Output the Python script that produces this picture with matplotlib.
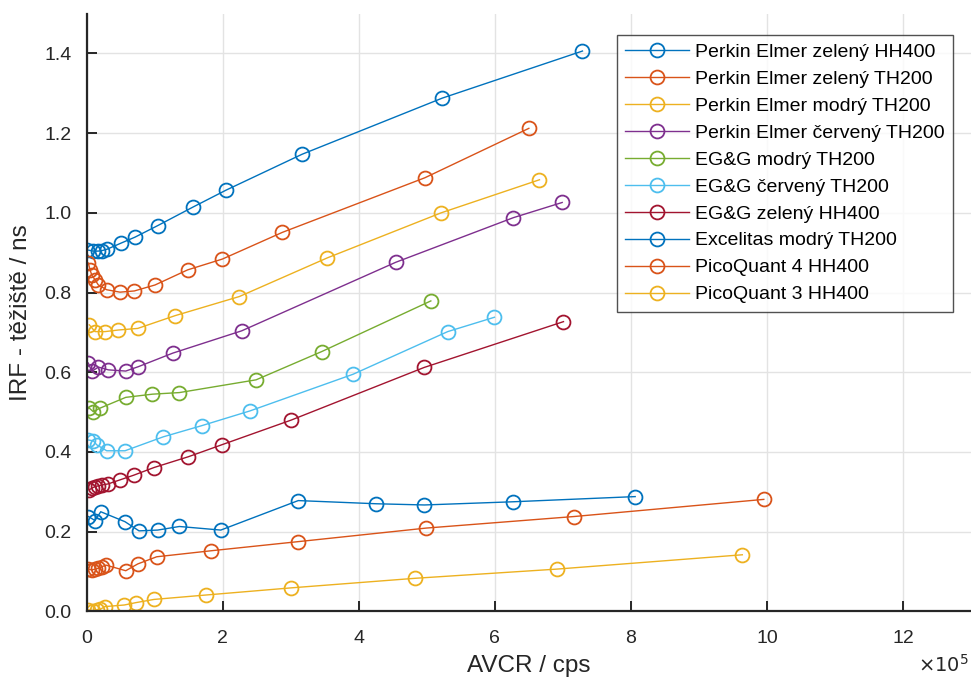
import matplotlib
matplotlib.use("Agg")
import matplotlib.pyplot as plt

plt.rcParams['font.family'] = ['Liberation Sans', 'DejaVu Sans']

# AVCR in units of 1e5 cps, IRF centroid in ns
pe_zel_hh_x = [0.009, 0.097, 0.166, 0.221, 0.303, 0.504, 0.710, 1.044, 1.568, 2.049, 3.166, 5.229, 7.288]
pe_zel_hh_y = [0.907, 0.904, 0.904, 0.905, 0.909, 0.924, 0.939, 0.968, 1.015, 1.057, 1.147, 1.288, 1.406]

pe_zel_th_x = [0.024, 0.049, 0.074, 0.122, 0.171, 0.294, 0.490, 0.700, 1.004, 1.485, 1.994, 2.876, 4.971, 6.500]
pe_zel_th_y = [0.874, 0.857, 0.844, 0.832, 0.819, 0.807, 0.801, 0.804, 0.819, 0.857, 0.884, 0.951, 1.088, 1.212]

pe_mod_th_x = [0.038, 0.122, 0.269, 0.465, 0.750, 1.299, 2.244, 3.537, 5.210, 6.656]
pe_mod_th_y = [0.719, 0.702, 0.702, 0.706, 0.710, 0.742, 0.790, 0.887, 1.000, 1.083]

pe_cer_th_x = [0.024, 0.074, 0.171, 0.318, 0.574, 0.759, 1.265, 2.279, 4.544, 6.274, 6.990]
pe_cer_th_y = [0.623, 0.602, 0.613, 0.606, 0.603, 0.614, 0.648, 0.704, 0.876, 0.988, 1.026]

eg_mod_th_x = [0.038, 0.097, 0.196, 0.574, 0.965, 1.362, 2.490, 3.456, 5.059]
eg_mod_th_y = [0.510, 0.501, 0.510, 0.537, 0.545, 0.549, 0.581, 0.652, 0.779]

eg_cer_th_x = [0.024, 0.097, 0.147, 0.294, 0.563, 1.126, 1.691, 2.400, 3.916, 5.307, 5.994]
eg_cer_th_y = [0.430, 0.428, 0.418, 0.403, 0.403, 0.438, 0.466, 0.503, 0.595, 0.702, 0.738]

eg_zel_hh_x = [0.038, 0.074, 0.122, 0.171, 0.221, 0.318, 0.490, 0.696, 0.990, 1.494, 1.985, 3.006, 4.960, 7.009]
eg_zel_hh_y = [0.305, 0.309, 0.313, 0.315, 0.317, 0.320, 0.330, 0.342, 0.361, 0.388, 0.418, 0.480, 0.612, 0.727]

exc_mod_th_x = [0.024, 0.122, 0.206, 0.563, 0.769, 1.044, 1.362, 1.971, 3.110, 4.260, 4.965, 6.268, 8.063]
exc_mod_th_y = [0.238, 0.228, 0.250, 0.225, 0.202, 0.204, 0.213, 0.204, 0.278, 0.270, 0.267, 0.275, 0.288]

pq4_hh_x = [0.024, 0.074, 0.122, 0.171, 0.221, 0.284, 0.574, 0.750, 1.029, 1.824, 3.110, 4.991, 7.165, 9.954]
pq4_hh_y = [0.106, 0.104, 0.106, 0.108, 0.112, 0.116, 0.102, 0.119, 0.137, 0.152, 0.175, 0.209, 0.238, 0.281]

pq3_hh_x = [0.024, 0.088, 0.147, 0.196, 0.269, 0.553, 0.725, 0.990, 1.750, 3.006, 4.828, 6.907, 9.638]
pq3_hh_y = [0.004, 0.002, 0.004, 0.005, 0.012, 0.016, 0.022, 0.030, 0.041, 0.059, 0.083, 0.106, 0.142]

labels = ['Perkin Elmer zelený HH400', 'Perkin Elmer zelený TH200', 'Perkin Elmer modrý TH200',
          'Perkin Elmer červený TH200', 'EG&G modrý TH200', 'EG&G červený TH200',
          'EG&G zelený HH400', 'Excelitas modrý TH200', 'PicoQuant 4 HH400', 'PicoQuant 3 HH400']
series = [(pe_zel_hh_x, pe_zel_hh_y), (pe_zel_th_x, pe_zel_th_y), (pe_mod_th_x, pe_mod_th_y),
          (pe_cer_th_x, pe_cer_th_y), (eg_mod_th_x, eg_mod_th_y), (eg_cer_th_x, eg_cer_th_y),
          (eg_zel_hh_x, eg_zel_hh_y), (exc_mod_th_x, exc_mod_th_y), (pq4_hh_x, pq4_hh_y),
          (pq3_hh_x, pq3_hh_y)]
# matlab default order
colors = ['#0072BD', '#D95319', '#EDB120', '#7E2F8E', '#77AC30', '#4DBEEE', '#A2142F']

fig = plt.figure(figsize=(9.71, 6.79), dpi=100)
ax = fig.add_axes([0.0893, 0.0996, 0.9107, 0.8804])

for i, (x, y) in enumerate(series):
    ax.plot(x, y, '-o', color=colors[i % 7], lw=1.0, ms=10, mfc='none', mew=1.3,
            label=labels[i])

ax.set_xlim(0, 13)
ax.set_ylim(0, 1.5)
ax.set_xticks([0, 2, 4, 6, 8, 10, 12])
ax.set_yticks([0, 0.2, 0.4, 0.6, 0.8, 1.0, 1.2, 1.4])
ax.set_yticklabels(['0.0', '0.2', '0.4', '0.6', '0.8', '1.0', '1.2', '1.4'])
ax.grid(True, color='#e3e3e3', lw=1.0)
ax.set_axisbelow(True)
for s in ['top', 'right']:
    ax.spines[s].set_visible(False)
for s in ['left', 'bottom']:
    ax.spines[s].set_color('#262626')
    ax.spines[s].set_linewidth(1.6)
ax.tick_params(direction='in', length=7, width=1.4, colors='#262626', labelsize=14)
ax.tick_params(axis='x', pad=13.5)
ax.tick_params(axis='y', pad=11)

ax.set_xlabel('AVCR / cps', fontsize=17.5, color='#262626', labelpad=6)
ax.set_ylabel('IRF - těžiště / ns', fontsize=17.5, color='#262626', labelpad=9)
fig.text(0.972, 0.005, r'$\times 10^5$', fontsize=14, color='#262626', ha='center', va='bottom')

leg = ax.legend(loc='upper left', bbox_to_anchor=(0.5995, 0.964), fontsize=14, frameon=True,
                fancybox=False, edgecolor='#262626', borderpad=0.42, labelspacing=0.48,
                handlelength=3.3, handletextpad=0.3, borderaxespad=0)
leg.get_frame().set_linewidth(1.0)

fig.savefig('out.png', dpi=100)
